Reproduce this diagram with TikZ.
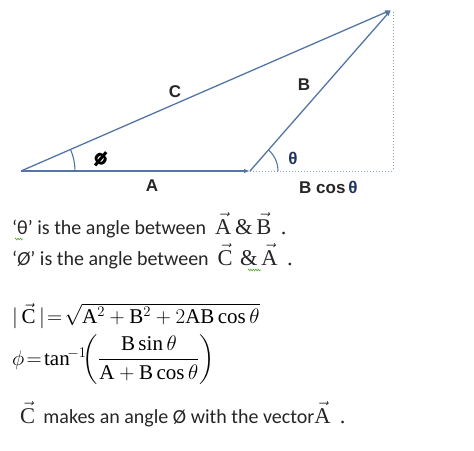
\RequirePackage{fix-cm}
\documentclass[tikz,border=0pt]{standalone}
\usepackage{amsmath}
\usepackage{fontspec}
\setmainfont{Liberation Serif}
\newfontfamily\sansf{Carlito}
\newfontfamily\arialf{Liberation Sans}
\newfontfamily\dejaf{DejaVu Sans}
\usetikzlibrary{arrows.meta,decorations.pathmorphing,calc}
\definecolor{vecc}{RGB}{84,118,165}
\definecolor{navyc}{RGB}{30,52,95}
\definecolor{txtc}{RGB}{38,38,38}
\definecolor{wavec}{RGB}{90,170,60}
\newcommand{\vecA}{\vec{\mathrm{A}}}
\newcommand{\vecB}{\vec{\mathrm{B}}}
\newcommand{\vecC}{\vec{\mathrm{C}}}
\newcommand{\mfs}{\rmfamily\fontsize{22.5}{24}\selectfont}
\tikzset{
  vecline/.style={draw=vecc, line width=1.3pt},
  vecarrow/.style={vecline, -{Latex[length=6pt,width=4.5pt]}},
  dotline/.style={draw=vecc!70, line width=1pt, dotted},
  anglearc/.style={draw=vecc, line width=1.1pt},
  lbl/.style={font=\arialf\bfseries\fontsize{17}{17}\selectfont, text=txtc, inner sep=0pt},
  txt/.style={anchor=base west, inner sep=0pt, text=txtc, font=\sansf\fontsize{20}{22}\selectfont},
  mth/.style={anchor=base west, inner sep=0pt, text=black, font=\fontsize{21}{24}\selectfont},
  wavy/.style={draw=wavec, line width=0.6pt, decorate, decoration={zigzag, amplitude=0.9pt, segment length=2.4pt}}
}
\begin{document}
\begin{tikzpicture}[x=1pt,y=-1pt]
\useasboundingbox[fill=white] (0,0) rectangle (474,450);
% points
\coordinate (O) at (21,171);
\coordinate (P) at (250,171);
\coordinate (T) at (391,10);
\coordinate (Q) at (393,171);
\coordinate (Qt) at (393,12);
% dotted projections
\draw[dotline] (P) -- (Q);
\draw[dotline] (Qt) -- (Q);
% vectors
\draw[vecarrow] (O) -- (P);
\draw[vecarrow] (P) -- (T);
\draw[vecarrow] (O) -- (T);
% angle arcs
\draw[anglearc] ($(O)+(54,0)$) arc[start angle=0, end angle=-23.5, radius=54];
\draw[anglearc] ($(P)+(28,0)$) arc[start angle=0, end angle=-48.8, radius=28];
% labels
\node[lbl] (lC) at (175,92) {C};
\node[lbl] (lB) at (304,85) {B};
\node[lbl] (lA) at (152,186) {A};
\node[lbl, text=navyc] (lth) at (293,158) {θ};
\node[lbl, anchor=west] (lBc) at (299,187) {B cos\,{\color{navyc}θ}};
\node[inner sep=0pt, rotate=-40, font=\dejaf\bfseries\fontsize{18}{18}\selectfont] (lphi) at (101,159) {ϕ};
% text lines
\node[txt] (t1) at (12,234) {‘θ’ is the angle between \ {\mfs$\vecA$\,\&\,$\vecB$\, .}};
\node[txt] (t2) at (12,265) {‘\textit{Ø}’ is the angle between \ {\mfs$\vecC$\,\,\&\,$\vecA$\, .}};
\draw[wavy] (15,239) -- (23,239);
\draw[wavy] (248,270) -- (261,270);
\node[mth] (f1) at (12,323) {$|\,\vecC\,|\!=\!\sqrt{\mathrm{A}^2+\mathrm{B}^2+2\mathrm{AB}\cos\theta}$};
\node[mth] (f2) at (12,365) {$\phi\!=\!\tan^{\!-1}\!\!\left(\dfrac{\mathrm{B}\sin\theta}{\mathrm{A}+\mathrm{B}\cos\theta}\right)$};
\node[txt] (t3) at (20,423) {{\mfs$\vecC$\,} makes an angle Ø with the vector{\mfs$\vecA$\, .}};
\end{tikzpicture}
\end{document}
